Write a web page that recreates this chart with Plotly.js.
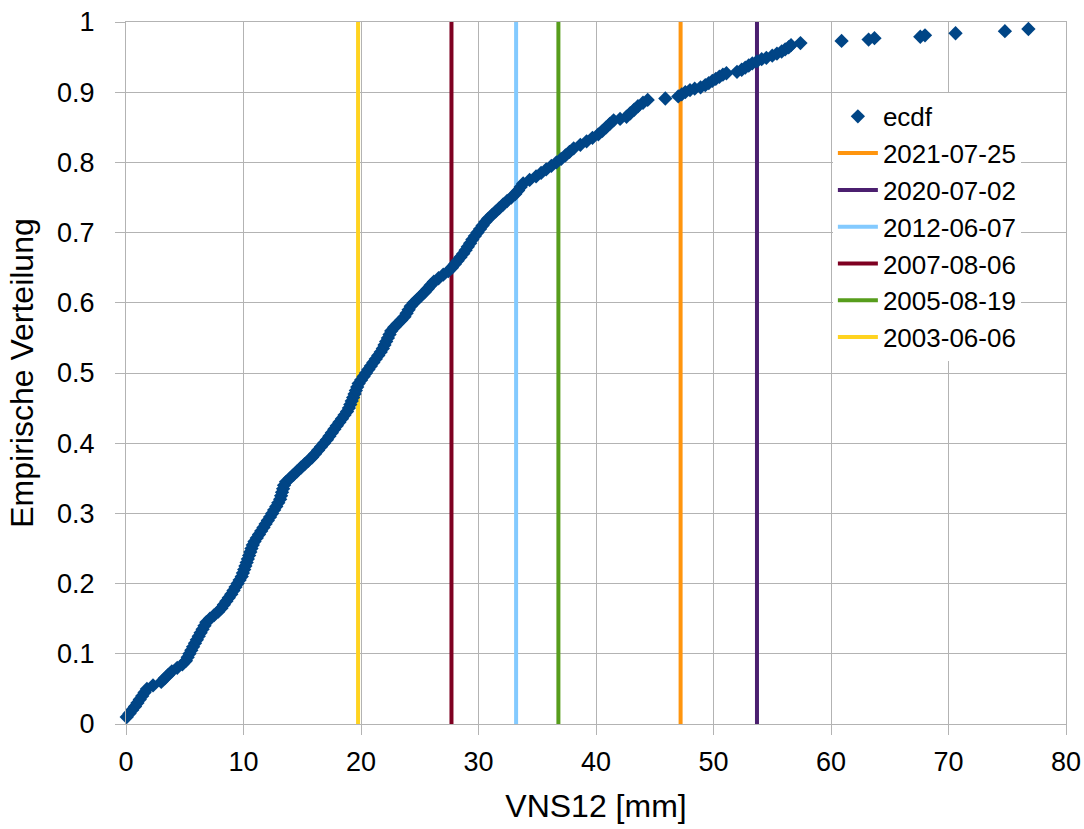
<!DOCTYPE html>
<html>
<head>
<meta charset="utf-8">
<script src="https://cdn.plot.ly/plotly-3.0.1.min.js"></script>
<style>html,body{margin:0;padding:0;background:#fff;}#chart{width:1084px;height:829px;}</style>
</head>
<body>
<div id="chart"></div>
<script>
const vns = [
0.06,0.30,0.53,0.77,0.97,1.17,1.38,1.58,1.78,2.3,
3.0,3.3,3.6,3.9,4.36,4.8,5.1,5.25,5.4,5.56,
5.71,5.87,6.03,6.19,6.35,6.52,6.68,6.84,7.15,7.5,
7.85,8.12,8.33,8.54,8.75,8.96,9.15,9.32,9.5,9.67,
9.85,9.95,10.06,10.16,10.27,10.37,10.48,10.58,10.68,10.79,
10.94,11.13,11.32,11.51,11.70,11.88,12.07,12.26,12.44,12.61,
12.79,12.96,13.12,13.2,13.28,13.37,13.45,13.62,13.94,14.25,
14.56,14.88,15.2,15.52,15.84,16.1,16.35,16.6,16.85,17.1,
17.31,17.52,17.73,17.94,18.16,18.38,18.6,18.81,18.97,19.09,
19.21,19.33,19.45,19.56,19.68,19.8,20.01,20.22,20.43,20.63,
20.84,21.05,21.26,21.47,21.68,21.86,22.0,22.14,22.29,22.43,
22.57,22.83,23.12,23.41,23.7,23.88,24.05,24.23,24.49,24.8,
25.1,25.41,25.68,25.93,26.2,26.6,27.0,27.43,27.74,27.98,
28.22,28.46,28.7,28.9,29.09,29.29,29.48,29.69,29.91,30.13,
30.35,30.57,30.83,31.14,31.46,31.78,32.1,32.44,32.79,33.13,
33.37,33.59,33.8,34.35,34.9,35.33,35.76,36.2,36.63,37.04,
37.4,37.75,38.1,38.67,39.2,39.7,40.2,40.55,40.87,41.18,
41.5,42.05,42.6,42.92,43.25,43.57,44.0,
44.4,45.9,47.0,47.3,47.6,48.0,48.4,48.9,49.3,49.6,
49.9,50.2,50.5,50.8,51.1,52.0,52.4,52.7,53.0,53.3,
53.7,54.1,54.5,55.0,55.4,55.8,56.1,56.4,56.6,57.4,
60.9,63.2,63.7,67.6,68.0,70.6,74.8,76.8
];
const ecdf = [
0.010,0.015,0.020,0.025,0.030,0.035,0.040,0.045,0.050,0.055,
0.060,0.065,0.070,0.075,0.080,0.085,0.090,0.095,0.100,0.105,
0.110,0.115,0.120,0.125,0.130,0.135,0.140,0.145,0.150,0.155,
0.160,0.165,0.170,0.175,0.180,0.185,0.190,0.195,0.200,0.205,
0.210,0.215,0.220,0.225,0.230,0.235,0.240,0.245,0.250,0.255,
0.260,0.265,0.270,0.275,0.280,0.285,0.290,0.295,0.300,0.305,
0.310,0.315,0.320,0.325,0.330,0.335,0.340,0.345,0.350,0.355,
0.360,0.365,0.370,0.375,0.380,0.385,0.390,0.395,0.400,0.405,
0.410,0.415,0.420,0.425,0.430,0.435,0.440,0.445,0.450,0.455,
0.460,0.465,0.470,0.475,0.480,0.485,0.490,0.495,0.500,0.505,
0.510,0.515,0.520,0.525,0.530,0.535,0.540,0.545,0.550,0.555,
0.560,0.565,0.570,0.575,0.580,0.585,0.590,0.595,0.600,0.605,
0.610,0.615,0.620,0.625,0.630,0.635,0.640,0.645,0.650,0.655,
0.660,0.665,0.670,0.675,0.680,0.685,0.690,0.695,0.700,0.705,
0.710,0.715,0.720,0.725,0.730,0.735,0.740,0.745,0.750,0.755,
0.760,0.765,0.770,0.775,0.780,0.785,0.790,0.795,0.800,0.805,
0.810,0.815,0.820,0.825,0.830,0.835,0.840,0.845,0.850,0.855,
0.860,0.862,0.865,0.870,0.875,0.880,0.885,
0.889,0.891,0.894,0.897,0.900,0.903,0.905,0.907,0.910,0.913,
0.916,0.919,0.922,0.925,0.927,0.929,0.932,0.935,0.938,0.941,
0.944,0.947,0.949,0.952,0.955,0.958,0.961,0.964,0.967,0.970,
0.973,0.975,0.977,0.979,0.981,0.984,0.987,0.990
];

// Event dates and their VNS12 values (vertical lines)
const eventDates = ['2021-07-25','2020-07-02','2012-06-07','2007-08-06','2005-08-19','2003-06-06'];
const eventValues = [47.2, 53.7, 33.2, 27.7, 36.8, 19.75];
const yAxisSpan = [0, 1];

// Styles
const eventColors = ['#ff950e','#4b1f6f','#83caff','#7e0021','#579d1c','#ffd320'];
const ecdfColor = '#004586';

const traces = [];
eventDates.forEach((d, i) => {
  traces.push({
    type: 'scatter', mode: 'lines', name: d,
    x: [eventValues[i], eventValues[i]], y: yAxisSpan,
    line: {color: eventColors[i], width: 4},
    legendrank: i + 2,
    hoverinfo: 'name+x'
  });
});
traces.push({
  type: 'scatter', mode: 'markers', name: 'ecdf',
  x: vns, y: ecdf,
  marker: {symbol: 'diamond', size: 11, color: ecdfColor, line: {width: 0}},
  cliponaxis: false, legendrank: 1
});

const gridCol = '#b3b3b3';
const layout = {
  width: 1084, height: 829,
  margin: {l: 126, r: 18, t: 22, b: 105, autoexpand: false},
  paper_bgcolor: '#ffffff', plot_bgcolor: '#ffffff',
  font: {family: '"Liberation Sans", Arial, sans-serif', size: 27, color: '#000000'},
  showlegend: true,
  legend: {
    x: 0.752, y: 0.899, xanchor: 'left', yanchor: 'top',
    bgcolor: '#ffffff', borderwidth: 0,
    font: {size: 26}, itemwidth: 40
  },
  xaxis: {
    range: [0, 80], tick0: 0, dtick: 10, showgrid: true, gridcolor: gridCol, gridwidth: 1,
    zeroline: false, showline: true, linecolor: gridCol, linewidth: 1, mirror: true,
    ticks: 'outside', ticklen: 10, tickcolor: gridCol, ticklabelstandoff: 4, automargin: false,
    title: {text: 'VNS12 [mm]', font: {size: 32}, standoff: 18}
  },
  yaxis: {
    range: [0, 1], tick0: 0, dtick: 0.1, showgrid: true, gridcolor: gridCol, gridwidth: 1,
    zeroline: false, showline: true, linecolor: gridCol, linewidth: 1, mirror: true,
    ticks: 'outside', ticklen: 10, tickcolor: gridCol, ticklabelstandoff: 15, automargin: false,
    title: {text: 'Empirische Verteilung', font: {size: 32}, standoff: 13}
  }
};

Plotly.newPlot('chart', traces, layout, {displayModeBar: false, staticPlot: true});
</script>
</body>
</html>
